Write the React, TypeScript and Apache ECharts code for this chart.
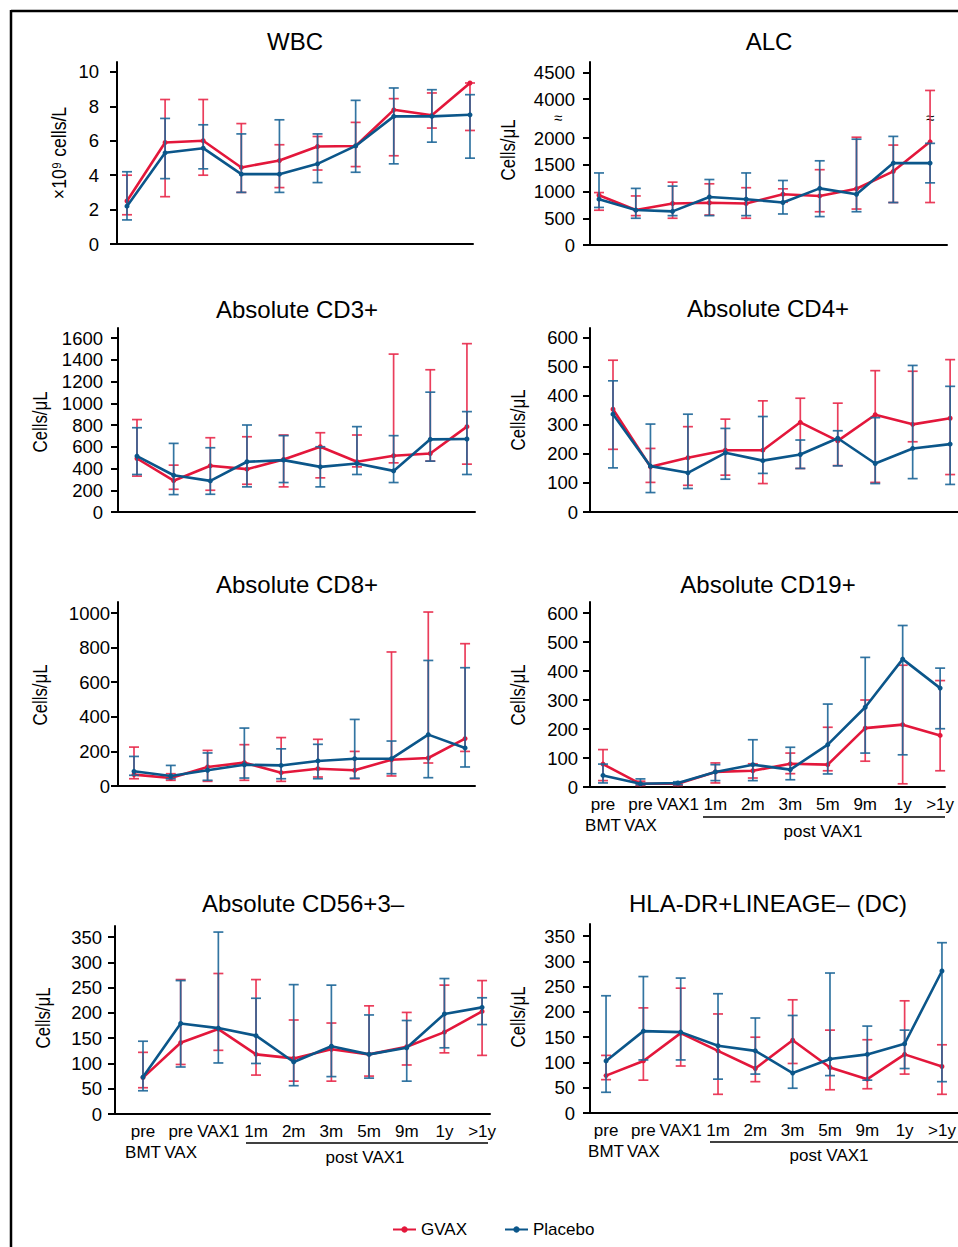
import React, { useEffect, useRef } from 'react';
import * as echarts from 'echarts';

// ---------- data ----------
const TIMEPOINTS = ['pre\nBMT', 'pre\nVAX', 'VAX1', '1m', '2m', '3m', '5m', '9m', '1y', '>1y'];
const SERIES_NAMES = ['GVAX', 'Placebo'];

const WBC_TICKS = [0, 2, 4, 6, 8, 10];
const WBC_GVAX = [2.5, 5.9, 6.0, 4.45, 4.85, 5.67, 5.7, 7.8, 7.48, 9.36];
const WBC_GVAX_ERR = [[1.7, 4.0], [2.75, 8.4], [4.0, 8.4], [3.0, 7.0], [3.28, 5.77], [4.3, 6.25], [4.5, 7.07], [5.13, 8.45], [6.74, 8.78], [6.6, 9.36]];
const WBC_PLACEBO = [2.2, 5.3, 5.57, 4.06, 4.06, 4.66, 5.7, 7.42, 7.42, 7.51];
const WBC_PLACEBO_ERR = [[1.4, 4.2], [3.8, 7.3], [4.37, 6.93], [3.0, 6.4], [3.0, 7.22], [3.57, 6.4], [4.17, 8.35], [4.66, 9.07], [5.92, 8.97], [4.99, 8.68]];

const ALC_TICKS = [0, 500, 1000, 1500, 2000, 4000, 4500];
const ALC_GVAX = [930, 653, 776, 790, 776, 948, 917, 1052, 1377, 1929];
const ALC_GVAX_ERR = [[650, 980], [549, 917], [500, 1175], [560, 1144], [500, 1071], [800, 1050], [622, 1408], [672, 2040], [794, 1868], [794, 4160]];
const ALC_PLACEBO = [856, 653, 629, 898, 856, 794, 1058, 948, 1531, 1531];
const ALC_PLACEBO_ERR = [[702, 1347], [500, 1058], [549, 1101], [549, 1224], [549, 1347], [580, 1206], [531, 1574], [622, 1978], [794, 2083], [1162, 1900]];

const CD3_TICKS = [0, 200, 400, 600, 800, 1000, 1200, 1400, 1600];
const CD3_GVAX = [492, 288, 425, 394, 483, 600, 462, 517, 538, 785];
const CD3_GVAX_ERR = [[330, 850], [209, 431], [200, 683], [255, 692], [231, 708], [314, 729], [415, 708], [452, 1452], [468, 1308], [440, 1548]];
const CD3_PLACEBO = [514, 338, 286, 462, 477, 415, 446, 378, 668, 671];
const CD3_PLACEBO_ERR = [[345, 775], [160, 631], [163, 591], [231, 800], [271, 702], [231, 600], [345, 785], [271, 702], [468, 1102], [345, 923]];

const CD4_TICKS = [0, 100, 200, 300, 400, 500, 600];
const CD4_GVAX = [354, 156, 187, 213, 213, 309, 245, 335, 302, 323];
const CD4_GVAX_ERR = [[216, 523], [102, 219], [92, 294], [127, 320], [98, 383], [150, 392], [160, 375], [102, 487], [242, 485], [129, 525]];
const CD4_PLACEBO = [337, 158, 135, 204, 177, 198, 254, 167, 219, 234];
const CD4_PLACEBO_ERR = [[152, 452], [67, 303], [81, 337], [113, 288], [133, 329], [150, 248], [159, 280], [98, 325], [115, 505], [95, 433]];

const CD8_TICKS = [0, 200, 400, 600, 800, 1000];
const CD8_GVAX = [66, 46, 110, 135, 77, 100, 91, 152, 162, 274];
const CD8_GVAX_ERR = [[42, 225], [33, 71], [27, 206], [33, 239], [27, 280], [52, 270], [42, 200], [58, 775], [133, 1006], [200, 823]];
const CD8_PLACEBO = [85, 58, 91, 123, 119, 145, 158, 158, 297, 220];
const CD8_PLACEBO_ERR = [[62, 171], [42, 119], [33, 191], [46, 335], [42, 215], [42, 241], [45, 385], [71, 260], [48, 726], [110, 684]];

const CD19_TICKS = [0, 100, 200, 300, 400, 500, 600];
const CD19_GVAX = [79, 11, 11, 52, 56, 80, 77, 203, 215, 178];
const CD19_GVAX_ERR = [[22, 129], [5, 20], [5, 15], [14, 83], [31, 80], [46, 117], [56, 206], [89, 300], [11, 420], [56, 367]];
const CD19_PLACEBO = [40, 11, 14, 52, 77, 60, 146, 275, 441, 341];
const CD19_PLACEBO_ERR = [[14, 79], [8, 28], [8, 18], [22, 77], [22, 163], [25, 137], [45, 286], [117, 447], [111, 557], [201, 410]];

const CD56_TICKS = [0, 50, 100, 150, 200, 250, 300, 350];
const CD56_GVAX = [72, 141, 168, 118, 110, 128, 118, 133, 162, 203];
const CD56_GVAX_ERR = [[52, 122], [98, 266], [126, 278], [77, 266], [65, 186], [65, 180], [75, 214], [97, 201], [121, 255], [116, 264]];
const CD56_PLACEBO = [73, 179, 170, 155, 103, 134, 118, 131, 198, 211];
const CD56_PLACEBO_ERR = [[46, 144], [93, 264], [101, 360], [100, 229], [56, 256], [74, 255], [71, 196], [65, 185], [131, 268], [177, 230]];

const DC_TICKS = [0, 50, 100, 150, 200, 250, 300, 350];
const DC_GVAX = [74, 103, 158, 123, 88, 144, 90, 67, 116, 92];
const DC_GVAX_ERR = [[66, 114], [65, 208], [93, 247], [37, 196], [62, 150], [98, 224], [46, 164], [48, 145], [77, 222], [37, 135]];
const DC_PLACEBO = [103, 162, 160, 133, 123, 79, 107, 116, 137, 281];
const DC_PLACEBO_ERR = [[41, 232], [105, 270], [105, 267], [67, 236], [77, 188], [49, 193], [74, 277], [65, 172], [88, 164], [62, 337]];

// ALC axis break (2000 -> 4000 compressed)
const ALC_BREAK_LOW = 2000;
const ALC_BREAK_HIGH = 4000;
const ALC_SHIFT = 1271;

// ---------- styling / layout ----------
const RED = '#e3173b';
const RED_ERR = '#e8294a';
const BLUE = '#0b568a';
const BLUE_ERR = '#1d6698';
const FONT = '"Liberation Sans", Arial, Helvetica, sans-serif';

const identity = (v: number) => v;
const alcDisp = (v: number) => {
  if (v <= ALC_BREAK_LOW) return v;
  if (v >= ALC_BREAK_HIGH) return v - ALC_SHIFT;
  return ALC_BREAK_LOW + ((v - ALC_BREAK_LOW) * (ALC_BREAK_HIGH - ALC_SHIFT - ALC_BREAK_LOW)) / (ALC_BREAK_HIGH - ALC_BREAK_LOW);
};

type Panel = {
  title: string; ylabel: string; ticks: number[];
  g: number[]; gE: number[][]; p: number[]; pE: number[][];
  disp: (v: number) => number;
  grid: { left: number; top: number; width: number; height: number };
  xMin: number; xMax: number; yMax: number; labelMargin: number;
  titlePos: [number, number]; ylabelPos: [number, number]; ylabelScale: number;
  showX: boolean;
};

const PANELS: Panel[] = [
  { title: 'WBC', ylabel: '×10⁹ cells/L', ticks: WBC_TICKS, g: WBC_GVAX, gE: WBC_GVAX_ERR, p: WBC_PLACEBO, pE: WBC_PLACEBO_ERR, disp: identity,
    grid: { left: 117, top: 62, width: 356, height: 182 }, xMin: -0.262, xMax: 9.079, yMax: 10.58, labelMargin: 18,
    titlePos: [295, 41], ylabelPos: [58, 153], ylabelScale: 0.84, showX: false },
  { title: 'ALC', ylabel: 'Cells/μL', ticks: ALC_TICKS, g: ALC_GVAX, gE: ALC_GVAX_ERR, p: ALC_PLACEBO, pE: ALC_PLACEBO_ERR, disp: alcDisp,
    grid: { left: 590, top: 62, width: 357, height: 183 }, xMin: -0.245, xMax: 9.46, yMax: 3421, labelMargin: 15,
    titlePos: [769, 41], ylabelPos: [508, 150], ylabelScale: 0.8, showX: false },
  { title: 'Absolute CD3+', ylabel: 'Cells/μL', ticks: CD3_TICKS, g: CD3_GVAX, gE: CD3_GVAX_ERR, p: CD3_PLACEBO, pE: CD3_PLACEBO_ERR, disp: identity,
    grid: { left: 118, top: 328, width: 357, height: 184 }, xMin: -0.518, xMax: 9.22, yMax: 1692, labelMargin: 15,
    titlePos: [297, 309], ylabelPos: [40, 422], ylabelScale: 0.8, showX: false },
  { title: 'Absolute CD4+', ylabel: 'Cells/μL', ticks: CD4_TICKS, g: CD4_GVAX, gE: CD4_GVAX_ERR, p: CD4_PLACEBO, pE: CD4_PLACEBO_ERR, disp: identity,
    grid: { left: 590, top: 328, width: 368, height: 184 }, xMin: -0.614, xMax: 9.21, yMax: 634, labelMargin: 12,
    titlePos: [768, 308], ylabelPos: [518, 420], ylabelScale: 0.8, showX: false },
  { title: 'Absolute CD8+', ylabel: 'Cells/μL', ticks: CD8_TICKS, g: CD8_GVAX, gE: CD8_GVAX_ERR, p: CD8_PLACEBO, pE: CD8_PLACEBO_ERR, disp: identity,
    grid: { left: 118, top: 602, width: 357, height: 184 }, xMin: -0.435, xMax: 9.27, yMax: 1064, labelMargin: 8,
    titlePos: [297, 584], ylabelPos: [40, 695], ylabelScale: 0.8, showX: false },
  { title: 'Absolute CD19+', ylabel: 'Cells/μL', ticks: CD19_TICKS, g: CD19_GVAX, gE: CD19_GVAX_ERR, p: CD19_PLACEBO, pE: CD19_PLACEBO_ERR, disp: identity,
    grid: { left: 590, top: 602, width: 355, height: 185 }, xMin: -0.347, xMax: 9.13, yMax: 638, labelMargin: 12,
    titlePos: [768, 584], ylabelPos: [518, 695], ylabelScale: 0.8, showX: true },
  { title: 'Absolute CD56+3–', ylabel: 'Cells/μL', ticks: CD56_TICKS, g: CD56_GVAX, gE: CD56_GVAX_ERR, p: CD56_PLACEBO, pE: CD56_PLACEBO_ERR, disp: identity,
    grid: { left: 115, top: 926, width: 375, height: 188 }, xMin: -0.743, xMax: 9.21, yMax: 372, labelMargin: 13,
    titlePos: [303, 903], ylabelPos: [43, 1018], ylabelScale: 0.8, showX: true },
  { title: 'HLA-DR+LINEAGE– (DC)', ylabel: 'Cells/μL', ticks: DC_TICKS, g: DC_GVAX, gE: DC_GVAX_ERR, p: DC_PLACEBO, pE: DC_PLACEBO_ERR, disp: identity,
    grid: { left: 590, top: 924, width: 368, height: 189 }, xMin: -0.43, xMax: 9.43, yMax: 374, labelMargin: 15,
    titlePos: [768, 903], ylabelPos: [518, 1017], ylabelScale: 0.8, showX: true },
];

const POST_LABELS: { y: number; x1: number; x2: number; tx: number; ty: number }[] = [
  { y: 817, x1: 703, x2: 945, tx: 823, ty: 831 },
  { y: 1143, x1: 246, x2: 488, tx: 365, ty: 1157 },
  { y: 1142, x1: 710, x2: 958, tx: 829, ty: 1155 },
];

function errRender(color: string) {
  return (params: any, api: any) => {
    const x = api.value(0);
    const lo = api.coord([x, api.value(1)]);
    const hi = api.coord([x, api.value(2)]);
    const cw = 5;
    const style = { stroke: color, lineWidth: 1.7, opacity: 0.9 };
    return {
      type: 'group',
      children: [
        { type: 'line', shape: { x1: lo[0], y1: lo[1], x2: hi[0], y2: hi[1] }, style },
        { type: 'line', shape: { x1: lo[0] - cw, y1: lo[1], x2: lo[0] + cw, y2: lo[1] }, style },
        { type: 'line', shape: { x1: hi[0] - cw, y1: hi[1], x2: hi[0] + cw, y2: hi[1] }, style },
      ],
    };
  };
}

function buildOption() {
  const grid: any[] = [];
  const xAxis: any[] = [];
  const yAxis: any[] = [];
  const series: any[] = [];
  const title: any[] = [];
  const graphic: any[] = [];
  const idx = TIMEPOINTS.map((_, i) => i);

  PANELS.forEach((pn, i) => {
    grid.push({ ...pn.grid, containLabel: false, outerBoundsMode: 'none' });
    xAxis.push({
      type: 'value', gridIndex: i, min: pn.xMin, max: pn.xMax,
      axisLine: { show: true, onZero: false, lineStyle: { color: '#000', width: 2 } },
      axisTick: { show: false },
      splitLine: { show: false },
      axisLabel: pn.showX
        ? { show: true, customValues: idx, formatter: (v: number) => TIMEPOINTS[Math.round(v)] ?? '',
            color: '#000', fontSize: 17, lineHeight: 21, margin: 7, fontFamily: FONT }
        : { show: false },
    });
    const dispTicks = pn.ticks.map(pn.disp);
    yAxis.push({
      type: 'value', gridIndex: i, min: 0, max: pn.yMax,
      axisLine: { show: true, onZero: false, lineStyle: { color: '#000', width: 2 } },
      axisTick: { show: true, length: 7, customValues: dispTicks, lineStyle: { color: '#000', width: 2 } },
      splitLine: { show: false },
      axisLabel: {
        show: true, customValues: dispTicks, margin: pn.labelMargin, color: '#000', fontSize: 18.5, fontFamily: FONT,
        formatter: (v: number) => {
          const j = dispTicks.findIndex((d) => Math.abs(d - v) < 1e-6);
          return j >= 0 ? String(pn.ticks[j]) : '';
        },
      },
    });
    const mk = (vals: number[]) => vals.map((v, k) => [k, pn.disp(v)]);
    const mkE = (errs: number[][]) => errs.map(([lo, hi], k) => [k, pn.disp(lo), pn.disp(hi)]);
    series.push({
      type: 'custom', name: 'GVAX range', xAxisIndex: i, yAxisIndex: i, data: mkE(pn.gE),
      renderItem: errRender(RED_ERR), encode: { x: 0, y: [1, 2] }, z: 2, silent: true,
    });
    series.push({
      type: 'line', name: SERIES_NAMES[0], xAxisIndex: i, yAxisIndex: i, data: mk(pn.g),
      symbol: 'circle', symbolSize: 5, lineStyle: { width: 2.6, color: RED }, itemStyle: { color: RED }, z: 3,
    });
    series.push({
      type: 'custom', name: 'Placebo range', xAxisIndex: i, yAxisIndex: i, data: mkE(pn.pE),
      renderItem: errRender(BLUE_ERR), encode: { x: 0, y: [1, 2] }, z: 4, silent: true,
    });
    series.push({
      type: 'line', name: SERIES_NAMES[1], xAxisIndex: i, yAxisIndex: i, data: mk(pn.p),
      symbol: 'circle', symbolSize: 5, lineStyle: { width: 2.6, color: BLUE }, itemStyle: { color: BLUE }, z: 5,
    });
    title.push({
      text: pn.title, left: pn.titlePos[0], top: pn.titlePos[1] - 12, textAlign: 'center', padding: 0,
      textStyle: { fontSize: 24, fontWeight: 'normal', color: '#000', fontFamily: FONT },
    });
    graphic.push({
      type: 'text', x: pn.ylabelPos[0], y: pn.ylabelPos[1], rotation: Math.PI / 2, scaleX: pn.ylabelScale,
      style: { text: pn.ylabel, fontSize: 21, fontFamily: FONT, fill: '#000', align: 'center', verticalAlign: 'middle' },
    });
  });

  // figure frame
  graphic.push({ type: 'line', shape: { x1: 11, y1: 11, x2: 958, y2: 11 }, style: { stroke: '#000', lineWidth: 2.5 } });
  graphic.push({ type: 'line', shape: { x1: 11, y1: 10, x2: 11, y2: 1247 }, style: { stroke: '#000', lineWidth: 2.5 } });

  // ALC axis-break marks
  [[558, 117], [930, 117]].forEach(([x, y]) => {
    graphic.push({ type: 'text', x, y, style: { text: '≈', fontSize: 15, fontFamily: FONT, fill: '#000', align: 'center', verticalAlign: 'middle' } });
  });

  // "post VAX1" brackets
  POST_LABELS.forEach((pl) => {
    graphic.push({ type: 'line', shape: { x1: pl.x1, y1: pl.y, x2: pl.x2, y2: pl.y }, style: { stroke: '#000', lineWidth: 1.5 } });
    graphic.push({ type: 'text', x: pl.tx, y: pl.ty, style: { text: 'post VAX1', fontSize: 17, fontFamily: FONT, fill: '#000', align: 'center', verticalAlign: 'middle' } });
  });

  return {
    animation: false,
    backgroundColor: '#fff',
    textStyle: { fontFamily: FONT },
    title,
    grid,
    xAxis,
    yAxis,
    series,
    graphic,
    legend: {
      data: SERIES_NAMES, left: 392, top: 1221, itemWidth: 23, itemHeight: 8, itemGap: 37, padding: 0,
      textStyle: { fontSize: 17, color: '#000', fontFamily: FONT },
    },
  };
}

export default function App() {
  const ref = useRef<HTMLDivElement>(null);
  useEffect(() => {
    if (!ref.current) return;
    const chart = echarts.init(ref.current, null, { renderer: 'svg' });
    chart.setOption(buildOption() as any);
    return () => chart.dispose();
  }, []);
  return <div ref={ref} style={{ position: 'fixed', left: 0, top: 0, width: 958, height: 1247, background: '#fff' }} />;
}
